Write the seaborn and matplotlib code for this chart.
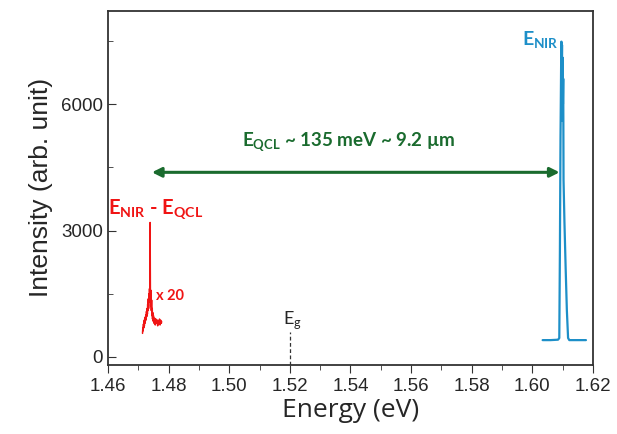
import numpy as np
import pandas as pd
import matplotlib
matplotlib.use('Agg')
import matplotlib.pyplot as plt
import seaborn as sns

# NIR emission line (blue)
nir_energy = [1.6034, 1.6060, 1.6085, 1.6089, 1.6091, 1.6093, 1.6095, 1.6096, 1.6097,
              1.6098, 1.6099, 1.6100, 1.6101, 1.6102, 1.6103, 1.6106, 1.6110, 1.6114,
              1.6118, 1.6122, 1.6150, 1.6177]
nir_int = [400, 400, 410, 450, 2500, 5200, 6900, 7480, 6800, 7400, 5600, 7100, 6000,
           6600, 4200, 3200, 2100, 1100, 450, 400, 400, 400]

# NIR - QCL sideband (red, x 20)
side_energy = [1.4714, 1.4715, 1.4716, 1.4717, 1.4718, 1.4719, 1.4720, 1.4721, 1.4722,
               1.4723, 1.4724, 1.4725, 1.4726, 1.4727, 1.4728, 1.4729, 1.4730, 1.4731,
               1.4732, 1.4733, 1.4734, 1.4735, 1.4736, 1.4737, 1.4738, 1.4739, 1.4740,
               1.4741, 1.4742, 1.4743, 1.4744, 1.4745, 1.4746, 1.4747, 1.4748, 1.4749,
               1.4750, 1.4752, 1.4754, 1.4756, 1.4758, 1.4760, 1.4762, 1.4764, 1.4766,
               1.4768, 1.4770, 1.4772, 1.4774, 1.4776, 1.4777]
side_int = [560, 700, 620, 780, 690, 860, 740, 900, 800, 950, 860, 1000, 900, 1080,
            960, 1150, 1020, 1250, 1100, 1380, 1150, 1500, 1300, 1620, 1350, 3190, 1450,
            1200, 1580, 1100, 1350, 980, 1150, 900, 1050, 850, 980, 800, 920, 760, 900,
            800, 880, 740, 860, 780, 900, 760, 870, 800, 840]

e_gap = 1.52
e_qcl_start, e_qcl_end = 1.4745, 1.6090

sns.set_style('ticks')
plt.rcParams['font.family'] = ['Liberation Sans', 'DejaVu Sans']
plt.rcParams['mathtext.fontset'] = 'custom'
plt.rcParams['mathtext.rm'] = 'Lato'
plt.rcParams['mathtext.bf'] = 'Lato:bold'

fig = plt.figure(figsize=(6.17, 4.34), dpi=100)
ax = fig.add_axes([0.175, 0.159, 0.786, 0.816])

nir = pd.DataFrame({'Energy': nir_energy, 'Intensity': nir_int})
side = pd.DataFrame({'Energy': side_energy, 'Intensity': side_int})
sns.lineplot(data=nir, x='Energy', y='Intensity', color='#1d8fc8', lw=1.6,
             estimator=None, ax=ax)
sns.lineplot(data=side, x='Energy', y='Intensity', color='#f01414', lw=1.1,
             estimator=None, ax=ax)

ax.set_xlim(1.46, 1.62)
ax.set_ylim(-190, 8210)
ax.set_xticks(np.arange(1.46, 1.6201, 0.02))
ax.set_xticks(np.arange(1.47, 1.62, 0.02), minor=True)
ax.set_yticks([0, 3000, 6000])
ax.set_yticks([1500, 4500, 7500], minor=True)
ax.xaxis.set_major_formatter(matplotlib.ticker.FormatStrFormatter('%.2f'))
ax.tick_params(axis='x', which='both', direction='out', labelsize=13.5, color='#333333')
ax.tick_params(axis='x', which='major', length=6)
ax.tick_params(axis='x', which='minor', length=3.5)
ax.tick_params(axis='y', which='both', direction='in', labelsize=13.5, color='#333333')
ax.tick_params(axis='y', which='major', length=6)
ax.tick_params(axis='y', which='minor', length=3.5)
for s in ax.spines.values():
    s.set_visible(True)
    s.set_linewidth(1.3)
    s.set_color('#333333')

ax.set_xlabel('Energy (eV)', fontsize=19, family='Open Sans', labelpad=2)
ax.set_ylabel('Intensity (arb. unit)', fontsize=19, labelpad=6)

# band gap marker
ax.vlines(e_gap, -190, 600, colors='#333333', linestyles=(0, (3, 2)), lw=0.9)
ax.text(e_gap + 0.0008, 620, r'E$_\mathrm{g}$', fontsize=13, family='Lato',
        ha='center', va='bottom')

# QCL energy arrow
ax.annotate('', xy=(e_qcl_end, 4380), xytext=(e_qcl_start, 4380),
            arrowprops=dict(arrowstyle='<|-|>', color='#1a6b2e', lw=2.2,
                            mutation_scale=14, shrinkA=0, shrinkB=0))
ax.text(1.5395, 5100, r'$\mathbf{E}_{\mathbf{QCL}}$ ~ 135 meV ~ 9.2 µm', color='#1a6b2e',
        fontsize=13.5, family='Lato', fontweight='bold', ha='center', va='center')

ax.text(1.4600, 3500, r'$\mathbf{E}_{\mathbf{NIR}}$ - $\mathbf{E}_{\mathbf{QCL}}$',
        color='#f01414', fontsize=14.5, family='Lato', fontweight='bold',
        ha='left', va='center')
ax.text(1.4760, 1450, 'x 20', color='#f01414', fontsize=10.5, family='Lato',
        fontweight='bold', ha='left', va='center')
ax.text(1.6086, 7520, r'$\mathbf{E}_{\mathbf{NIR}}$', color='#1d8fc8', fontsize=14,
        family='Lato', fontweight='bold', ha='right', va='center')

fig.savefig('out.png', dpi=100)
